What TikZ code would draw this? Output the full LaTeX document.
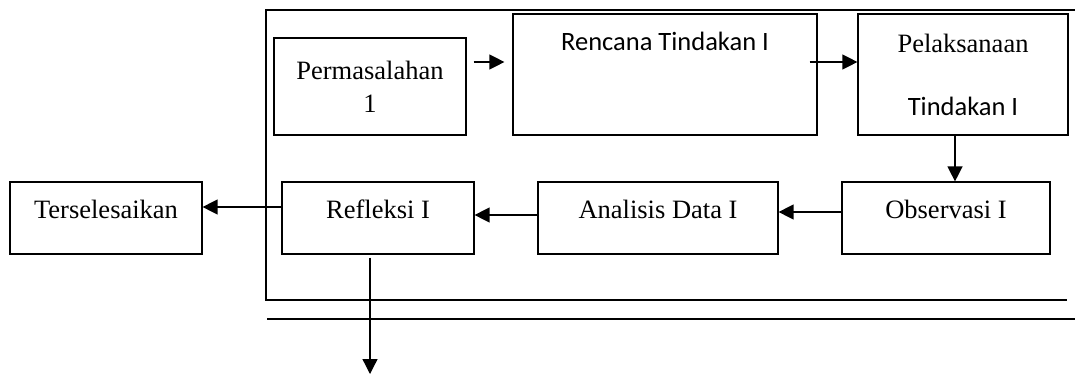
\documentclass[tikz,border=0pt]{standalone}
\usepackage{fontspec}
\setmainfont{Liberation Serif}
\newfontfamily\calibri{Carlito}
\usetikzlibrary{arrows.meta}
\begin{document}
\begin{tikzpicture}[x=1pt,y=-1pt,
    kotak/.style={draw,line width=1.2pt,inner sep=0pt,font=\fontsize{26.5}{33}\selectfont},
    bawah/.style={kotak,minimum height=72pt,text height=18pt,text depth=18pt},
    panah/.style={line width=1.3pt,-{Triangle[length=15pt,width=15pt]}}]
    \useasboundingbox (0,0) rectangle (1075,375);
    % kotak atas
    \node[kotak,minimum width=192pt,minimum height=97pt,align=center] (perm) at (370,86.5) {Permasalahan\\1};
    \node[kotak,minimum width=304pt,minimum height=121pt,font=\fontsize{26.5}{33}\calibri,text height=18pt,text depth=67pt] (renc) at (665,74.5) {Rencana Tindakan I};
    \node[kotak,minimum width=210pt,minimum height=121pt,align=center] (pelak) at (963,74.5) {Pelaksanaan\\[30pt]{\calibri Tindakan I}};
    % kotak bawah
    \node[bawah,minimum width=208pt] (obs) at (946,218) {Observasi I};
    \node[bawah,minimum width=240pt] (anal) at (658,218) {Analisis Data I};
    \node[bawah,minimum width=192pt] (refl) at (378,218) {Refleksi I};
    \node[bawah,minimum width=192pt] (selesai) at (106,218) {Terselesaikan};
    \coordinate (lanjut) at (370,374);
    % garis siklus
    \draw[line width=1.4pt] (1075,10) -- (266,10) -- (266,300) -- (1067,300);
    \draw[line width=1.2pt] (267,319) -- (1075,319);
    % panah
    \draw[panah,shorten <=7pt,shorten >=8pt] ([yshift=24.5pt]perm.east) -- ([yshift=12.5pt]renc.west);
    \draw[panah] ([xshift=-8pt,yshift=12.5pt]renc.east) -- ([yshift=12.5pt]pelak.west);
    \draw[panah] ([xshift=-8pt]pelak.south) -- ([xshift=9pt]obs.north);
    \draw[panah] ([yshift=6pt]obs.west) -- ([yshift=6pt]anal.east);
    \draw[panah] ([yshift=3pt]anal.west) -- ([yshift=3pt]refl.east);
    \draw[panah] ([yshift=11pt]refl.west) -- ([yshift=11pt]selesai.east);
    \draw[panah,shorten <=3pt] ([xshift=-8pt]refl.south) -- (lanjut);
\end{tikzpicture}
\end{document}
